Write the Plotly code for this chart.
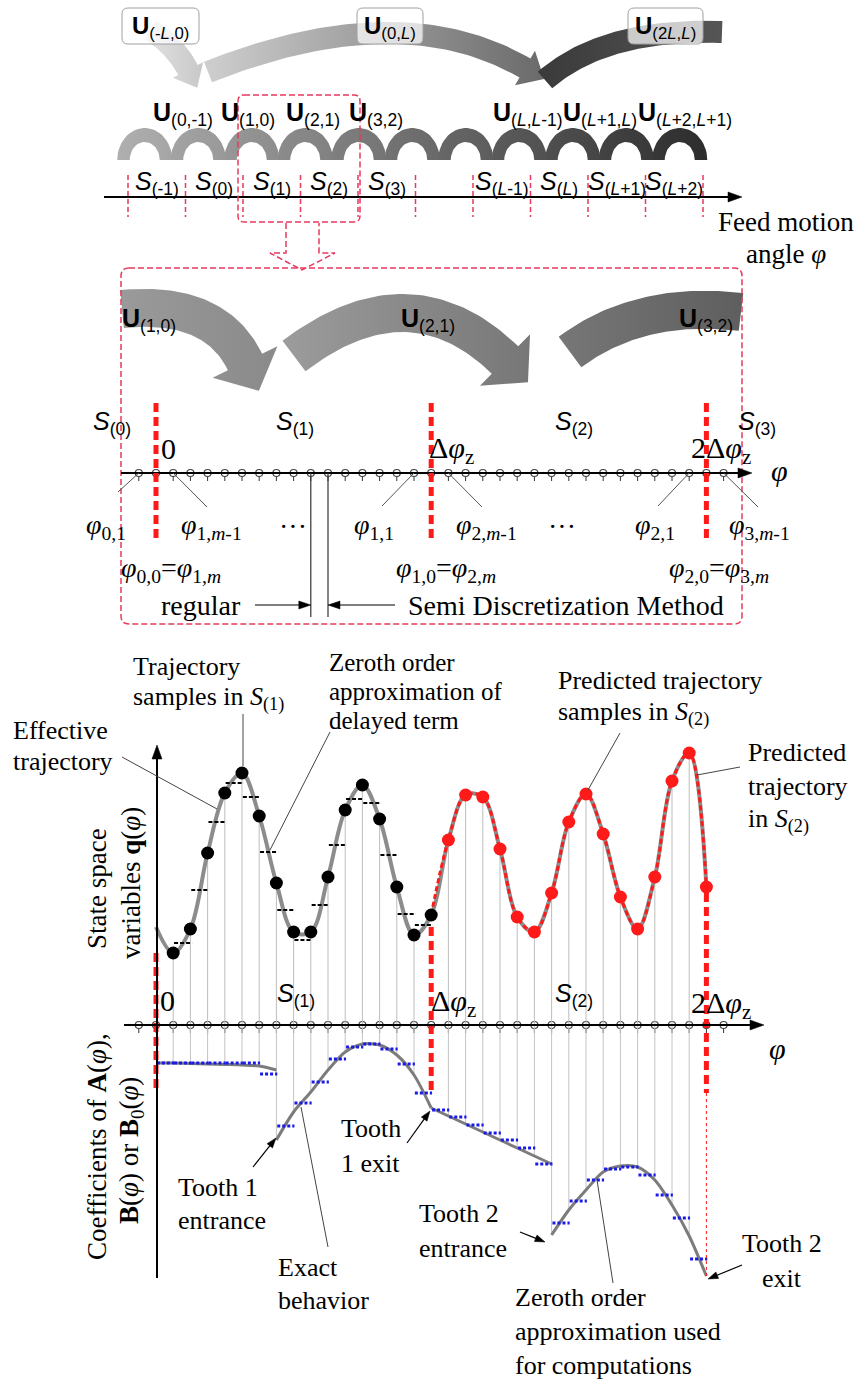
import numpy as np
import plotly.graph_objects as go

# ======================= DATA =======================
# --- top strip (feed motion axis) ---
top_tick_index = list(range(11))
top_segment_labels = ["(-1)", "(0)", "(1)", "(2)", "(3)", "", "(<i>L</i>-1)", "(<i>L</i>)",
                      "(<i>L</i>+1)", "(<i>L</i>+2)"]
top_small_u_labels = ["(0,-1)", "(1,0)", "(2,1)", "(3,2)", "(<i>L</i>,<i>L</i>-1)",
                      "(<i>L</i>+1,<i>L</i>)", "(<i>L</i>+2,<i>L</i>+1)"]
top_big_u_labels = ["(-<i>L</i>,0)", "(0,<i>L</i>)", "(2<i>L</i>,<i>L</i>)"]

# --- zoomed strip ---
zoom_u_labels = ["(1,0)", "(2,1)", "(3,2)"]
period_k = [0, 16, 32]
grid_k = list(range(-1, 34))
phi_labels = ["<i>φ</i><sub>0,1</sub>", "<i>φ</i><sub>1,<i>m</i>-1</sub>", "···",
              "<i>φ</i><sub>1,1</sub>", "<i>φ</i><sub>2,<i>m</i>-1</sub>", "···",
              "<i>φ</i><sub>2,1</sub>", "<i>φ</i><sub>3,<i>m</i>-1</sub>"]
phi_label_k = [-1, 1, None, 15, 17, None, 31, 33]
eq_labels = ["<i>φ</i><sub>0,0</sub>=<i>φ</i><sub>1,<i>m</i></sub>",
             "<i>φ</i><sub>1,0</sub>=<i>φ</i><sub>2,<i>m</i></sub>",
             "<i>φ</i><sub>2,0</sub>=<i>φ</i><sub>3,<i>m</i></sub>"]

# --- state space trajectory samples (k = sample index) ---
sample_k = list(range(0, 33))
state_q = [0.98, 0.72, 0.96, 1.72, 2.32, 2.52, 2.09, 1.42, 0.93, 0.93, 1.48, 2.15, 2.40, 2.06,
           1.38, 0.90, 1.10,
           1.85, 2.30, 2.28, 1.76, 1.08, 0.93, 1.32, 2.03, 2.31, 1.91, 1.28, 0.96, 1.48, 2.44,
           2.72, 1.38]
# zeroth order approximation of delayed term on interval [k, k+1]
zoh_state_k = list(range(1, 16))
zoh_state_q = [0.82, 1.35, 2.03, 2.42, 2.28, 1.73, 1.15, 0.85, 1.20, 1.80, 2.26, 2.22, 1.70,
               1.11, 1.00]

# --- coefficient (exact behaviour), piecewise ---
coef_seg_k = [list(range(0, 8)), list(range(7, 17)), list(range(16, 24)), list(range(23, 33))]
coef_seg_c = [[2.27, 2.27, 2.265, 2.26, 2.255, 2.25, 2.24, 2.20],
              [1.50, 1.78, 1.98, 2.20, 2.38, 2.46, 2.45, 2.35, 2.15, 1.82],
              [1.82, 1.74, 1.66, 1.58, 1.50, 1.42, 1.34, 1.26],
              [0.55, 0.80, 1.00, 1.18, 1.24, 1.23, 1.10, 0.85, 0.54, 0.14]]
zoh_coef_k = list(range(0, 32))
zoh_coef_c = [2.27, 2.27, 2.27, 2.27, 2.27, 2.27, 2.16, 1.64, 1.87, 2.08, 2.31, 2.43, 2.46, 2.41,
              2.26, 1.97, 1.80, 1.73, 1.65, 1.57, 1.50, 1.42, 1.26, 0.67, 0.89, 1.10, 1.21, 1.23,
              1.15, 0.95, 0.72, 0.31]

# ======================= LAYOUT CONSTANTS =======================
W, H = 862, 1382
SERIF = "Liberation Serif, Times New Roman, serif"
SANS = "Liberation Sans, Arial, sans-serif"
RED = "#ff1a1a"
PINK = "#e8385e"
PX0, DK = 156.0, 17.2          # pixel of k=0, pixels per sample
TX0, TDX = 128.0, 57.5         # top strip tick pixel / spacing
AX2_Y = 1025.0                 # pixel of phi axis (bottom plots)
Q_SCALE, C_ZERO = 100.0, 1290.0
C_AXIS = (C_ZERO - AX2_Y) / Q_SCALE

fig = go.Figure()
shapes, annots = [], []


def txt(x, y, s, size=28, fam=SERIF, xa="left", ya="middle", angle=0, color="black",
        xref="x", yref="y", align=None):
    annots.append(dict(x=x, y=y, text=s, showarrow=False, xref=xref, yref=yref,
                       xanchor=xa, yanchor=ya, textangle=angle, borderpad=0,
                       align=align or ("left" if xa == "left" else "center"),
                       font=dict(family=fam, size=size, color=color)))


def lines_txt(x, ys, texts, size=26, xa="left"):
    for y, s in zip(ys, texts):
        txt(x, y, s, size, SERIF, xa)


def line(x0, y0, x1, y1, color="#444", width=1, dash=None, xref="x", yref="y"):
    shapes.append(dict(type="line", x0=x0, y0=y0, x1=x1, y1=y1, xref=xref, yref=yref,
                       line=dict(color=color, width=width, dash=dash)))


def arrow(x, y, ax, ay, width=1.2, hl=10.0, hw=7.0, color="black"):
    """arrow in pixel coordinates: tip (x, y), tail (ax, ay)"""
    tip, tail = np.array([x, y], float), np.array([ax, ay], float)
    d = tip - tail
    d = d / np.linalg.norm(d)
    nrm = np.array([-d[1], d[0]])
    base = tip - d * hl
    line(ax, ay, base[0] + d[0] * 1.5, base[1] + d[1] * 1.5, color, width)
    p1, p2 = base + nrm * hw / 2, base - nrm * hw / 2
    shapes.append(dict(type="path", xref="x", yref="y", fillcolor=color,
                       path=f"M {tip[0]},{tip[1]} L {p1[0]},{p1[1]} L {p2[0]},{p2[1]} Z",
                       line=dict(color=color, width=0.5)))


def rrect(x0, y0, x1, y1, r, color, width=1.5, dash=None, fill="rgba(0,0,0,0)"):
    p = (f"M {x0+r},{y0} L {x1-r},{y0} Q {x1},{y0} {x1},{y0+r} L {x1},{y1-r} "
         f"Q {x1},{y1} {x1-r},{y1} L {x0+r},{y1} Q {x0},{y1} {x0},{y1-r} L {x0},{y0+r} "
         f"Q {x0},{y0} {x0+r},{y0} Z")
    shapes.append(dict(type="path", path=p, xref="x", yref="y", fillcolor=fill,
                       line=dict(color=color, width=width, dash=dash)))


def block_arrow(p0, p1, p2, w, head_w=0.0, head_l=0.0, n=60):
    p0, p1, p2 = map(np.array, (p0, p1, p2))
    t = np.linspace(0, 1, n)[:, None]
    c = (1 - t) ** 2 * p0 + 2 * (1 - t) * t * p1 + t ** 2 * p2
    d = 2 * (1 - t) * (p1 - p0) + 2 * t * (p2 - p1)
    d = d / np.linalg.norm(d, axis=1)[:, None]
    nr = np.stack([-d[:, 1], d[:, 0]], axis=1)
    left, right = c + nr * w / 2, c - nr * w / 2
    pts = list(left)
    if head_l > 0:
        e, de, ne = c[-1], d[-1], nr[-1]
        pts += [e + ne * head_w / 2, e + de * head_l, e - ne * head_w / 2]
    pts += list(right[::-1])
    pts.append(pts[0])
    return [p[0] for p in pts], [p[1] for p in pts]


def add_poly(xs, ys, c0, c1, outline="rgba(0,0,0,0)"):
    fig.add_trace(go.Scatter(x=xs, y=ys, mode="lines", fill="toself",
                             fillgradient=dict(type="horizontal", colorscale=[[0, c0], [1, c1]]),
                             line=dict(color=outline, width=0.5), hoverinfo="skip",
                             showlegend=False, xaxis="x", yaxis="y"))


def kpx(k):
    return PX0 + k * DK


# ======================= PANEL 1 =======================
xs, ys = block_arrow((150, 30), (175, 45), (188, 70), 22, 34, 20)
add_poly(xs, ys, "#e2e2e2", "#c8c8c8")
xs, ys = block_arrow((208, 72), (400, -4), (525, 68), 22, 40, 22)
add_poly(xs, ys, "#cfcfcf", "#6a6a6a")
xs, ys = block_arrow((545, 80), (605, 28), (722, 32), 22)
add_poly(xs, ys, "#3a3a3a", "#555555")

n_arch = 11
for i in range(n_arch):
    cx = 118 + 53.5 * i + 26.75
    th = np.linspace(np.pi, 0, 30)
    ox = cx + 27.5 * np.cos(th)
    oy = 160 - 32 * np.sin(th)
    ix = cx + 15 * np.cos(th[::-1])
    iy = 160 - 18 * np.sin(th[::-1])
    xs = list(ox) + list(ix) + [ox[0]]
    ys = list(oy) + list(iy) + [oy[0]]
    f = i / (n_arch - 1)
    g0 = int(175 - 120 * f)
    g1 = int(165 - 120 * f)
    add_poly(xs, ys, f"rgb({g0},{g0},{g0})", f"rgb({g1},{g1},{g1})")

box_x = [(122, 199), (357, 423), (628, 703)]
for (bx0, bx1), lab in zip(box_x, top_big_u_labels):
    rrect(bx0, 8, bx1, 44, 6, "#a0a0a0", 1, None, "rgba(255,255,255,0.72)")
    txt((bx0 + bx1) / 2, 27, f"<b>U</b><sub>{lab}</sub>", 24, SANS, "center")

small_u_x = [183, 248, 313, 376, 528, 600, 685]
for x, lab in zip(small_u_x, top_small_u_labels):
    txt(x, 114, f"<b>U</b><sub>{lab}</sub>", 25, SANS, "center")

arrow(742, 197, 104, 197, width=2, hl=14, hw=10)
for i in top_tick_index:
    line(i, 175, i, 217, PINK, 1.5, "5px,3px", xref="x3")
for i, lab in enumerate(top_segment_labels):
    if lab:
        txt(i + 0.5, 183, f"<i>S</i><sub>{lab}</sub>", 25, SANS, "center", xref="x3")
lines_txt(786, [222, 254], ["Feed motion", "angle <i>φ</i>"], 27, "center")

rrect(238, 95, 360, 222, 6, PINK, 1.5, "6px,3px")
shapes.append(dict(type="path", xref="x", yref="y",
                   path="M 286,223 L 286,253 L 270,253 L 302,270 L 335,253 L 319,253 L 319,223",
                   line=dict(color=PINK, width=1.5, dash="6px,3px")))

# ======================= PANEL 2 =======================
rrect(121, 268, 742, 624, 8, PINK, 1.5, "6px,3px")
xs, ys = block_arrow((122, 309), (215, 300), (245, 362), 38, 72, 32)
add_poly(xs, ys, "#9a9a9a", "#8a8a8a")
xs, ys = block_arrow((294, 356), (410, 268), (505, 360), 38, 72, 32)
add_poly(xs, ys, "#9c9c9c", "#777777")
xs, ys = block_arrow((570, 352), (640, 300), (741, 312), 38)
add_poly(xs, ys, "#777777", "#5e5e5e")
for x, lab in zip([121, 400, 678], zoom_u_labels):
    txt(x, 320, f"<b>U</b><sub>{lab}</sub>", 25, SANS, "left")

AX1_Y = 473
arrow(752, AX1_Y, 121, AX1_Y, width=2, hl=14, hw=10)
for k in period_k:
    line(k, 403, k, 543, RED, 5, "9px,5px", xref="x2")

tick_x, tick_y = [], []
for k in grid_k:
    tick_x += [k, k, None]
    tick_y += [AX1_Y - 3, AX1_Y + 8, None]
fig.add_trace(go.Scatter(x=tick_x, y=tick_y, mode="lines", line=dict(color="#333", width=1),
                         xaxis="x2", yaxis="y", hoverinfo="skip", showlegend=False))
fig.add_trace(go.Scatter(x=grid_k, y=[AX1_Y] * len(grid_k), mode="markers",
                         marker=dict(symbol="circle", size=7, color="white",
                                     line=dict(color="#444", width=1.2)),
                         xaxis="x2", yaxis="y", hoverinfo="skip", showlegend=False))

txt(92, 423, "<i>S</i><sub>(0)</sub>", 25, SANS, "left")
txt(295, 423, "<i>S</i><sub>(1)</sub>", 25, SANS, "center")
txt(574, 423, "<i>S</i><sub>(2)</sub>", 25, SANS, "center")
txt(737, 423, "<i>S</i><sub>(3)</sub>", 25, SANS, "left")
txt(168, 448, "0", 30, SERIF, "center")
txt(428, 450, "Δ<i>φ</i><sub>z</sub>", 30)
txt(690, 450, "2Δ<i>φ</i><sub>z</sub>", 30)
txt(770, 470, "<i>φ</i>", 30)

label_px = [127, 180, 293, 353, 455, 562, 634, 728]
label_anchor = ["right", "left", "center", "left", "left", "center", "left", "left"]
leader_end = [(118, 492), (207, 507), None, (382, 506), (482, 507), None, (658, 506), (758, 507)]
for lab, k, x, a, le in zip(phi_labels, phi_label_k, label_px, label_anchor, leader_end):
    txt(x, 526, lab, 28, SERIF, a)
    if k is not None and le is not None:
        shapes.append(dict(type="line", xref="x2", yref="y", x0=k, y0=AX1_Y,
                           x1=(le[0] - PX0) / DK, y1=le[1], line=dict(color="#555", width=1)))
for lab, x in zip(eq_labels, [222, 497, 770]):
    txt(x, 569, lab, 28, SERIF, "right")

for k in [9, 10]:
    line(k, AX1_Y, k, 617, "#333", 1.2, xref="x2")
txt(160, 605, "regular", 28)
arrow(kpx(9), 605, 255, 605, width=1.2, hl=12, hw=8)
txt(407, 605, "Semi Discretization Method", 28)
arrow(kpx(10), 605, 395, 605, width=1.2, hl=12, hw=8)

# ======================= PANEL 3 & 4 =======================
drop_x, drop_y = [], []
for k, q in zip(sample_k, state_q):
    if k in period_k:
        continue
    drop_x += [k, k, None]
    drop_y += [0, q, None]
fig.add_trace(go.Scatter(x=drop_x, y=drop_y, mode="lines", line=dict(color="#bdbdbd", width=1),
                         xaxis="x2", yaxis="y2", hoverinfo="skip", showlegend=False))

coef_low = {}
for ks, cs in zip(coef_seg_k, coef_seg_c):
    for k, c in zip(ks, cs):
        coef_low[k] = min(c, coef_low.get(k, 1e9))
cd_x, cd_y = [], []
for k in sorted(coef_low):
    if k in period_k:
        continue
    cd_x += [k, k, None]
    cd_y += [C_AXIS, coef_low[k], None]
fig.add_trace(go.Scatter(x=cd_x, y=cd_y, mode="lines", line=dict(color="#c4c4c4", width=1),
                         xaxis="x2", yaxis="y3", hoverinfo="skip", showlegend=False))

guide_top_q = {0: 0.72, 16: 0.98, 32: 1.32}
for k in period_k:
    line(k, AX2_Y - guide_top_q[k] * Q_SCALE, k, 1093, RED, 5, "9px,5px", xref="x2")
line(32, 1093, 32, C_ZERO - coef_seg_c[-1][-1] * Q_SCALE, RED, 1, "dot", xref="x2")

fig.add_trace(go.Scatter(x=sample_k, y=state_q, mode="lines",
                         line=dict(color="#8c8c8c", width=4, shape="spline", smoothing=1.0),
                         xaxis="x2", yaxis="y2", hoverinfo="skip", showlegend=False))
fig.add_trace(go.Scatter(x=sample_k[16:], y=state_q[16:], mode="lines",
                         line=dict(color=RED, width=3, dash="5px,3px", shape="spline",
                                   smoothing=1.0),
                         xaxis="x2", yaxis="y2", hoverinfo="skip", showlegend=False))
zx, zy = [], []
for k, q in zip(zoh_state_k, zoh_state_q):
    zx += [k + 0.05, k + 1.1, None]
    zy += [q, q, None]
fig.add_trace(go.Scatter(x=zx, y=zy, mode="lines",
                         line=dict(color="black", width=2, dash="4px,2px"),
                         xaxis="x2", yaxis="y2", hoverinfo="skip", showlegend=False))
fig.add_trace(go.Scatter(x=sample_k[1:17], y=state_q[1:17], mode="markers",
                         marker=dict(color="black", size=13), xaxis="x2", yaxis="y2",
                         hoverinfo="skip", showlegend=False))
fig.add_trace(go.Scatter(x=sample_k[17:], y=state_q[17:], mode="markers",
                         marker=dict(color=RED, size=13), xaxis="x2", yaxis="y2",
                         hoverinfo="skip", showlegend=False))

for ks, cs in zip(coef_seg_k, coef_seg_c):
    fig.add_trace(go.Scatter(x=ks, y=cs, mode="lines",
                             line=dict(color="#7c7c7c", width=3, shape="spline", smoothing=0.8),
                             xaxis="x2", yaxis="y3", hoverinfo="skip", showlegend=False))
bx, by = [], []
for k, c in zip(zoh_coef_k, zoh_coef_c):
    bx += [k + 0.05, k + 1.05, None]
    by += [c, c, None]
fig.add_trace(go.Scatter(x=bx, y=by, mode="lines",
                         line=dict(color="#1a1ae6", width=3, dash="3px,2px"),
                         xaxis="x2", yaxis="y3", hoverinfo="skip", showlegend=False))

arrow(157, 745, 157, 1278, width=2, hl=14, hw=10)
arrow(764, AX2_Y, 124, AX2_Y, width=2, hl=14, hw=10)
t2x, t2y = [], []
for k in grid_k:
    t2x += [k, k, None]
    t2y += [AX2_Y - 3, AX2_Y + 8, None]
fig.add_trace(go.Scatter(x=t2x, y=t2y, mode="lines", line=dict(color="#333", width=1),
                         xaxis="x2", yaxis="y", hoverinfo="skip", showlegend=False))
fig.add_trace(go.Scatter(x=grid_k, y=[AX2_Y] * len(grid_k), mode="markers",
                         marker=dict(symbol="circle", size=7, color="white",
                                     line=dict(color="#444", width=1.2)),
                         xaxis="x2", yaxis="y", hoverinfo="skip", showlegend=False))

txt(167, 1000, "0", 30, SERIF, "center")
txt(296, 995, "<i>S</i><sub>(1)</sub>", 25, SANS, "center")
txt(574, 995, "<i>S</i><sub>(2)</sub>", 25, SANS, "center")
txt(430, 1003, "Δ<i>φ</i><sub>z</sub>", 30)
txt(690, 1005, "2Δ<i>φ</i><sub>z</sub>", 30)
txt(768, 1048, "<i>φ</i>", 30)

# rotated y labels (one annotation per line)
txt(97, 889, "State space", 27, SERIF, "center", angle=-90)
txt(131, 883, "variables <b>q</b>(<i>φ</i>)", 27, SERIF, "center", angle=-90)
txt(97, 1147, "Coefficients of <b>A</b>(<i>φ</i>),", 27, SERIF, "center", angle=-90)
txt(131, 1151, "<b>B</b>(<i>φ</i>) or <b>B</b><sub>0</sub>(<i>φ</i>)", 27, SERIF, "center",
    angle=-90)

# annotations of panel 3
lines_txt(132, [666, 698], ["Trajectory", "samples in <i>S</i><sub>(1)</sub>"], 26)
line(243, 714, 243, 766)
lines_txt(328, [662, 691, 720], ["Zeroth order", "approximation of", "delayed term"], 25)
line(330, 732, 270, 850)
lines_txt(12, [730, 761], ["Effective", "trajectory"], 26)
line(122, 757, 217, 809)
lines_txt(557, [680, 713], ["Predicted trajectory", "samples in <i>S</i><sub>(2)</sub>"], 26)
line(620, 733, 588, 790)
lines_txt(747, [752, 786, 820], ["Predicted", "trajectory", "in <i>S</i><sub>(2)</sub>"], 26)
line(740, 767, 697, 775)

# annotations of panel 4
lines_txt(177, [1187, 1220], ["Tooth 1", "entrance"], 26)
arrow(276, 1138, 253, 1167)
lines_txt(340, [1128, 1163], ["Tooth", "1 exit"], 26)
arrow(430, 1111, 407, 1143)
lines_txt(277, [1267, 1300], ["Exact", "behavior"], 26)
line(328, 1247, 301, 1107)
lines_txt(418, [1213, 1248], ["Tooth 2", "entrance"], 26)
arrow(545, 1242, 520, 1232)
lines_txt(782, [1243, 1278], ["Tooth 2", "exit"], 26, "center")
arrow(708, 1279, 742, 1265)
lines_txt(514, [1297, 1331, 1365], ["Zeroth order", "approximation used", "for computations"], 26)
line(613, 1283, 597, 1180)

# ======================= AXES =======================
hidden = dict(visible=False, fixedrange=True, showgrid=False, zeroline=False)
fig.update_layout(
    width=W, height=H, margin=dict(l=0, r=0, t=0, b=0),
    paper_bgcolor="white", plot_bgcolor="white", showlegend=False,
    xaxis=dict(range=[0, W], domain=[0, 1], **hidden),
    yaxis=dict(range=[H, 0], domain=[0, 1], **hidden),
    xaxis2=dict(range=[(0 - PX0) / DK, (W - PX0) / DK], overlaying="x", **hidden),
    yaxis2=dict(range=[(AX2_Y - H) / Q_SCALE, AX2_Y / Q_SCALE], overlaying="y", **hidden),
    yaxis3=dict(range=[(C_ZERO - H) / Q_SCALE, C_ZERO / Q_SCALE], overlaying="y", **hidden),
    xaxis3=dict(range=[(0 - TX0) / TDX, (W - TX0) / TDX], overlaying="x", **hidden),
    shapes=shapes, annotations=annots,
)
fig.write_html("out.html")
